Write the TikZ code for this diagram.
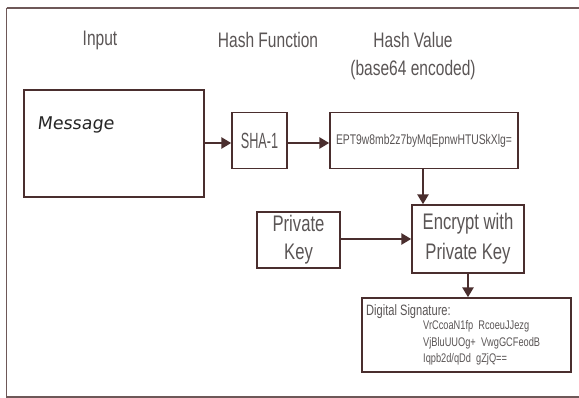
\documentclass[tikz,border=0pt]{standalone}
\usepackage{fontspec}
\setmainfont{Liberation Sans}[FakeStretch=0.74]
\newfontfamily\handfont{DejaVu Sans}[FakeSlant=0.12]
\usetikzlibrary{arrows.meta}
\definecolor{edge}{HTML}{4A2E2E}
\definecolor{ink}{HTML}{5A5555}
\tikzset{
  box/.style={draw=edge, line width=1.4pt, fill=white, inner sep=0pt, text=ink, align=center},
  title/.style={text=ink, font=\fontsize{21}{26}\selectfont, inner sep=0pt, align=center},
  link/.style={draw=edge, line width=2.6pt, -{Triangle[length=10pt,width=11pt]}},
}
\begin{document}
\begin{tikzpicture}[x=1pt,y=-1pt]
\useasboundingbox (0,0) rectangle (579,398);
% outer frame
\draw[edge!80!white, line width=1.4pt] (6.5,8) -- (579,8) (6.5,8) -- (6.5,397) -- (579,397);

% column headings
\node[title] (tin) at (100,40) {Input};
\node[title] (tfn) at (268,40) {Hash Function};
\node[title] (tval) at (413,40) {Hash Value};
\node[title] (tenc) at (413,70) {(base64 encoded)};

% boxes
\node[box, minimum width=180, minimum height=107] (msg) at (114,143.5) {};
\node[anchor=west, inner sep=0pt, text=black!85, font=\handfont\fontsize{17.5}{20}\selectfont] (msgtxt) at (37,125) {Message};
\node[box, minimum width=55, minimum height=56, font=\fontsize{22}{26}\selectfont] (sha) at (259.5,140.5) {\scalebox{0.78}[1]{SHA-1}};
\node[box, minimum width=188, minimum height=56, font=\fontsize{14}{17}\selectfont] (hash) at (424,140.5) {EPT9w8mb2z7byMqEpnwHTUSkXlg=};
\node[box, minimum width=83, minimum height=56, font=\fontsize{22.5}{28}\selectfont] (pk) at (298.5,240) {Private\\Key};
\node[box, minimum width=112, minimum height=68, font=\fontsize{22.5}{30}\selectfont] (enc) at (468,239) {Encrypt with\\Private Key};
\node[box, minimum width=209, minimum height=74] (sig) at (466.5,335) {};
\node[anchor=west, inner sep=0pt, text=ink, font=\fontsize{15}{18}\selectfont] (sigh) at (366,312) {Digital Signature:};
\node[anchor=north west, inner sep=0pt, text=ink, align=left, font=\fontsize{12.5}{16.8}\selectfont] (sigv) at (423,320)
  {VrCcoaN1fp\ \ RcoeuJJezg\\VjBluUUOg+\ \ VwgGCFeodB\\Iqpb2d/qDd\ \ gZjQ==};

% connectors
\draw[link] (msg.east |- 0,143) -- (sha.west |- 0,143);
\draw[link] (sha.east |- 0,143) -- (hash.west |- 0,143);
\draw[link] (hash.south -| 423,0) -- (enc.north -| 423,0);
\draw[link] (pk.east |- 0,239) -- (enc.west |- 0,239);
\draw[link] (enc.south) -- (enc.south |- sig.north);
\end{tikzpicture}
\end{document}
